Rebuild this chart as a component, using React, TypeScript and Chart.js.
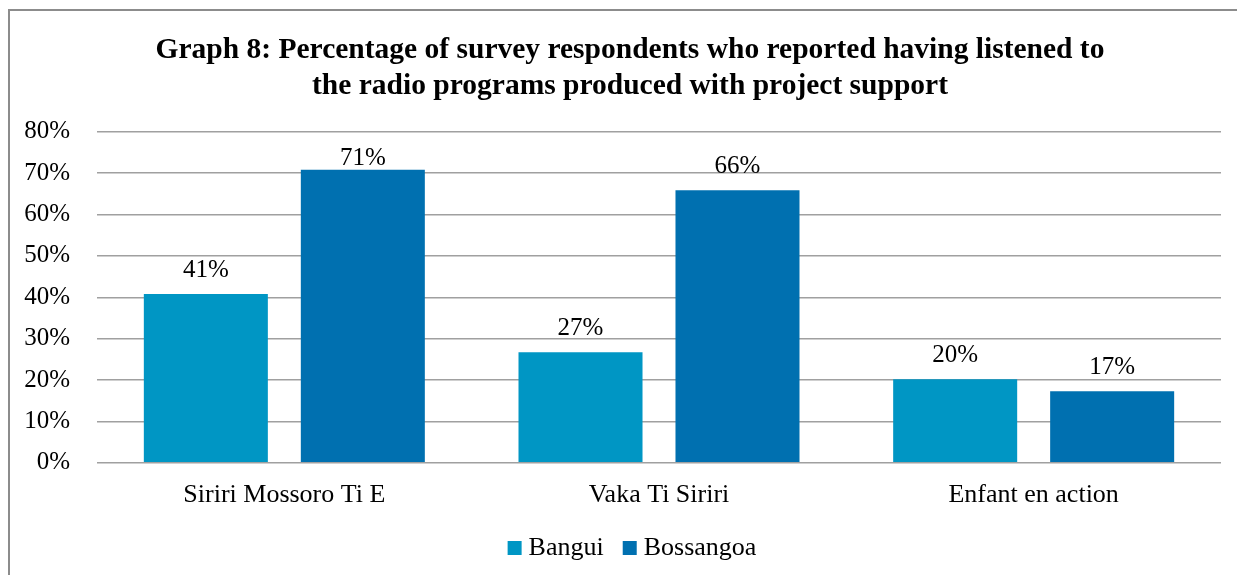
import React, { useEffect, useRef } from "react";
import { Chart, registerables } from "chart.js";

Chart.register(...registerables);

const categories = ["Siriri Mossoro Ti E", "Vaka Ti Siriri", "Enfant en action"];
const seriesNames = ["Bangui", "Bossangoa"];
const bangui = [40.8, 26.7, 20.2];
const bossangoa = [70.8, 65.9, 17.3];
const yTicks = [0, 10, 20, 30, 40, 50, 60, 70, 80];
const titleLines = [
  "Graph 8: Percentage of survey respondents who reported having listened to",
  "the radio programs produced with project support",
];

const FONT = "'Liberation Serif', 'Times New Roman', serif";
const COLORS = ["#0096C4", "#0070B0"];
// label gap above each bar (style), per dataset
const labelGap = [
  [17, 17, 17],
  [5, 17, 17],
];

const valueLabels = {
  id: "valueLabels",
  afterDatasetsDraw(chart: any) {
    const ctx = chart.ctx;
    ctx.save();
    ctx.font = `25px ${FONT}`;
    ctx.fillStyle = "#000";
    ctx.textAlign = "center";
    ctx.textBaseline = "alphabetic";
    chart.data.datasets.forEach((ds: any, i: number) => {
      const meta = chart.getDatasetMeta(i);
      meta.data.forEach((bar: any, j: number) => {
        ctx.fillText(Math.round(ds.data[j]) + "%", bar.x, bar.y - labelGap[i][j]);
      });
    });
    ctx.restore();
  },
};

const customLegend = {
  id: "customLegend",
  afterDraw(chart: any) {
    const ctx = chart.ctx;
    ctx.save();
    ctx.font = `26px ${FONT}`;
    const box = 14;
    const gapText = 7;
    const gapItem = 19;
    const widths = seriesNames.map((n) => box + gapText + ctx.measureText(n).width);
    const total = widths.reduce((a, b) => a + b, 0) + gapItem * (seriesNames.length - 1);
    let x = chart.width / 2 + 2 - total / 2;
    const boxTop = 530;
    seriesNames.forEach((n, i) => {
      ctx.fillStyle = COLORS[i];
      ctx.fillRect(x, boxTop, box, box);
      ctx.fillStyle = "#000";
      ctx.textAlign = "left";
      ctx.textBaseline = "alphabetic";
      ctx.fillText(n, x + box + gapText, boxTop + box);
      x += widths[i] + gapItem;
    });
    ctx.restore();
  },
};

export default function App() {
  const ref = useRef<HTMLCanvasElement>(null);
  useEffect(() => {
    if (!ref.current) return;
    const chart = new Chart(ref.current, {
      type: "bar",
      data: {
        labels: categories,
        datasets: [
          { label: seriesNames[0], data: bangui, backgroundColor: COLORS[0], borderWidth: 0 },
          { label: seriesNames[1], data: bossangoa, backgroundColor: COLORS[1], borderWidth: 0 },
        ],
      },
      options: {
        animation: false,
        responsive: false,
        maintainAspectRatio: false,
        layout: { padding: { top: 0, right: 0, bottom: 57, left: 0 } },
        datasets: { bar: { categoryPercentage: 0.838, barPercentage: 0.79 } },
        plugins: {
          title: {
            display: true,
            text: titleLines,
            color: "#000",
            font: { family: FONT, size: 29.5, weight: "bold", lineHeight: 1.2 },
            padding: { top: 22, bottom: 28 },
          },
          legend: { display: false },
          tooltip: { enabled: false },
        },
        scales: {
          x: {
            grid: { display: false },
            border: { display: false },
            ticks: { color: "#000", font: { family: FONT, size: 26, lineHeight: 1.2 }, padding: 9 },
          },
          y: {
            min: 0,
            max: 80,
            afterFit: (s: any) => { s.width = 87; },
            afterBuildTicks: (s: any) => { s.ticks = yTicks.map((v) => ({ value: v })); },
            grid: { color: "#a0a0a0", lineWidth: 1.5, drawTicks: false },
            border: { display: false },
            ticks: {
              color: "#000",
              font: { family: FONT, size: 25, lineHeight: 1.2 },
              padding: 27,
              callback: (v: any) => v + "%",
            },
          },
          yRight: {
            position: "right",
            min: 0,
            max: 80,
            afterFit: (s: any) => { s.width = 29; },
            grid: { display: false, drawTicks: false },
            border: { display: false },
            ticks: { display: false },
          },
        },
      },
      plugins: [valueLabels, customLegend],
    });
    return () => chart.destroy();
  }, []);
  return (
    <div style={{ position: "fixed", left: 0, top: 0, width: 1237, height: 575, overflow: "hidden", background: "#fff" }}>
      <div style={{ position: "absolute", left: 8, top: 9, width: 1240, height: 600, border: "2px solid #8c8c8c" }}>
        <canvas ref={ref} width={1240} height={566} style={{ display: "block" }} />
      </div>
    </div>
  );
}
